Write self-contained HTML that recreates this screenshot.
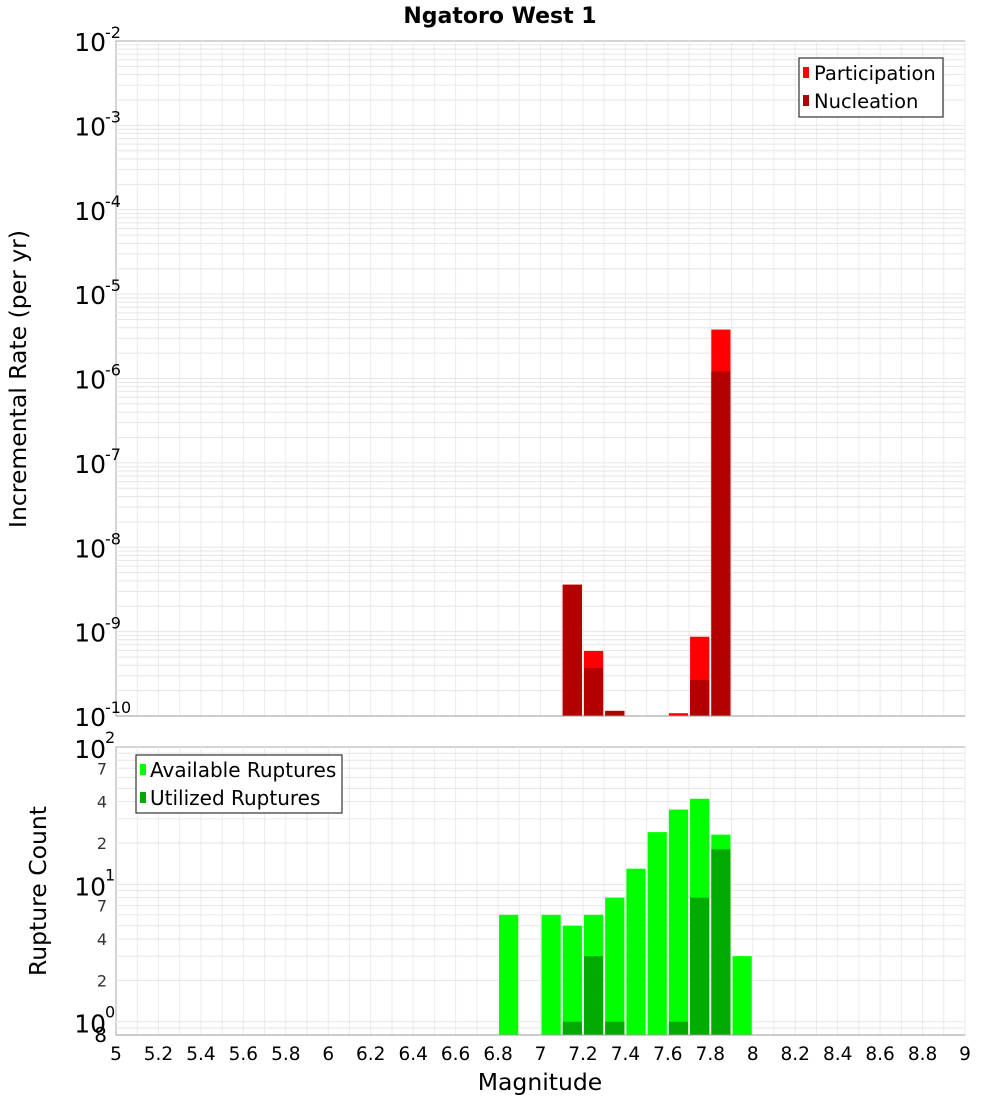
<!DOCTYPE html>
<html><head><meta charset="utf-8"><style>
body{margin:0;background:#fff;font-family:"Liberation Sans","DejaVu Sans",sans-serif}
svg text{font-family:"DejaVu Sans","Liberation Sans",sans-serif}
</style></head><body>
<svg id="c" width="1000" height="1100" xmlns="http://www.w3.org/2000/svg">
<text x="500" y="23" text-anchor="middle" font-size="22" font-weight="bold">Ngatoro West 1</text>
<text transform="translate(26,379) rotate(-90)" text-anchor="middle" font-size="23.5">Incremental Rate (per yr)</text>
<text transform="translate(46,891) rotate(-90)" text-anchor="middle" font-size="23.5">Rupture Count</text>
<text x="540" y="1090" text-anchor="middle" font-size="23.5">Magnitude</text>
<g id="g"></g>
<g>
<rect x="799" y="58" width="144" height="59" fill="#fff" stroke="#333" stroke-width="1.2"/>
<rect x="803" y="67" width="6" height="11" fill="#ff0000"/><text x="814" y="80" font-size="19.5">Participation</text>
<rect x="803" y="95" width="6" height="11" fill="#b30000"/><text x="814" y="108" font-size="19.5">Nucleation</text>
</g>
<g>
<rect x="136" y="755" width="206" height="58" fill="#fff" stroke="#333" stroke-width="1.2"/>
<rect x="140" y="764" width="6" height="11" fill="#00ff00"/><text x="150" y="777" font-size="20">Available Ruptures</text>
<rect x="140" y="792" width="6" height="11" fill="#00aa00"/><text x="150" y="805" font-size="20">Utilized Ruptures</text>
</g>
</svg>
<script>
const mags=[6.85,7.05,7.15,7.25,7.35,7.45,7.55,7.65,7.75,7.85,7.95];
const partic=[0,0,3.6e-9,5.9e-10,1.15e-10,0,0,1.08e-10,8.7e-10,3.8e-6,0];
const nucl=[0,0,3.6e-9,3.7e-10,1.15e-10,0,0,0,2.67e-10,1.21e-6,0];
const avail=[6,6,5,6,8,13,24,35,42,23,3];
const util=[0,0,1,3,1,0,0,1,8,18,0];
const xTicks=[5,5.2,5.4,5.6,5.8,6,6.2,6.4,6.6,6.8,7,7.2,7.4,7.6,7.8,8,8.2,8.4,8.6,8.8,9];
const L=116,R=965,T1=41,B1=716,T2=747,B2=1035;
const X=m=>L+(m-5)/4*(R-L);
const Y1=v=>T1+(-2-Math.log10(v))*(B1-T1)/8;
const Y2=v=>T2+(2-Math.log10(v))*(B2-T2)/Math.log10(125);
const NS="http://www.w3.org/2000/svg",g=document.getElementById('g');
function el(t,a,p){const e=document.createElementNS(NS,t);for(const k in a)e.setAttribute(k,a[k]);(p||g).appendChild(e);return e;}
let r=el('rect',{x:L,y:T1,width:R-L,height:B1-T1,fill:'#fff',stroke:'#aaa'});


r=el('rect',{x:L,y:T2,width:R-L,height:B2-T2,fill:'#fff',stroke:'#aaa'});


for(let m=5.1;m<9;m+=0.1){const x=X(m);el('line',{x1:x,x2:x,y1:T1,y2:B1,stroke:'#ebebeb'});el('line',{x1:x,x2:x,y1:T2,y2:B2,stroke:'#ebebeb'});}
for(let e=-10;e<-2;e++)for(let k=1;k<10;k++){const y=Y1(k*Math.pow(10,e));el('line',{x1:L,x2:R,y1:y,y2:y,stroke:'#e6e6e6'});}
for(let e=-1;e<2;e++)for(let k=1;k<10;k++){const v=k*Math.pow(10,e);if(v<0.8)continue;const y=Y2(v);el('line',{x1:L,x2:R,y1:y,y2:y,stroke:'#e6e6e6'});}
const bw=(X(5.1)-X(5))-2;
mags.forEach((m,i)=>{
 const x=X(m)-bw/2;
 if(partic[i]>0){const b=el('rect',{x:x,y:Y1(partic[i]),width:bw,height:B1-Y1(partic[i]),fill:'#ff0000'});
 
 }
 if(nucl[i]>0){const b=el('rect',{x:x,y:Y1(nucl[i]),width:bw,height:B1-Y1(nucl[i]),fill:'#b30000'});
 
 }
 if(avail[i]>0){const b=el('rect',{x:x,y:Y2(avail[i]),width:bw,height:B2-Y2(avail[i]),fill:'#00ff00'});
 
 }
 if(util[i]>0){const b=el('rect',{x:x,y:Y2(util[i]),width:bw,height:B2-Y2(util[i]),fill:'#00aa00'});
 
 }
});
el('line',{x1:L,x2:R,y1:B1,y2:B1,stroke:'#999'});el('line',{x1:L,x2:R,y1:B2,y2:B2,stroke:'#999'});
xTicks.forEach(m=>{const t=el('text',{x:X(m),y:1060,'text-anchor':'middle','font-size':'18.5'});t.textContent=String(m);

});
for(let e=-10;e<=-2;e++){const y=Y1(Math.pow(10,e));
 const t=el('text',{x:106,y:y+10,'text-anchor':'end','font-size':'25'});t.textContent='10';
 
 
 const s=el('text',{x:105,y:y-3,'font-size':'16'});s.textContent=String(e);}
[[100,'2'],[10,'1'],[1,'0']].forEach(([v,e])=>{const y=Y2(v);
 const t=el('text',{x:106,y:y+11,'text-anchor':'end','font-size':'25'});t.textContent='10';
 
 
 const s=el('text',{x:105,y:y-4,'font-size':'16'});s.textContent=e;});
[70,40,20,7,4,2].forEach(v=>{const t=el('text',{x:107,y:Y2(v)+6,'text-anchor':'end','font-size':'16',fill:'#333'});t.textContent=String(v).charAt(0);});
const t8=el('text',{x:107,y:B2+7,'text-anchor':'end','font-size':'20'});t8.textContent='8';
</script>
</body></html>
